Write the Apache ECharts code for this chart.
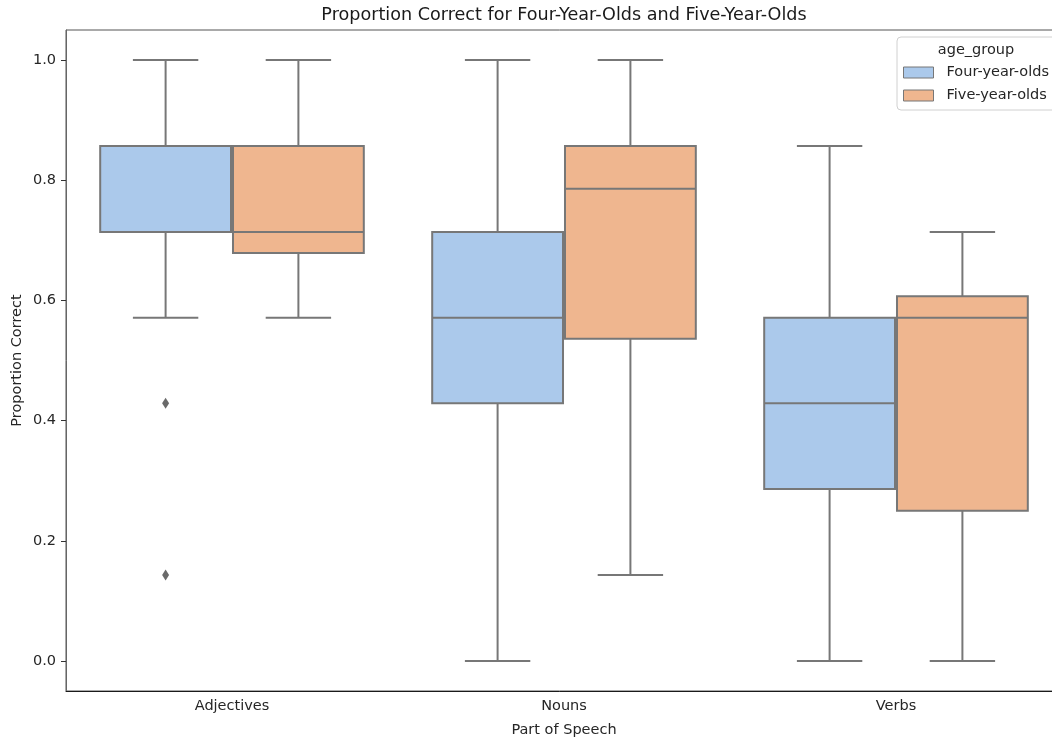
<!DOCTYPE html>
<html>
<head>
<meta charset="utf-8">
<script src="https://cdn.jsdelivr.net/npm/echarts@6/dist/echarts.min.js"></script>
<style>
  html, body { margin: 0; padding: 0; background: #fff; }
  #chart { width: 1052px; height: 740px; }
</style>
</head>
<body>
<div id="chart"></div>
<script>
// Parts of speech on the x axis
const categories = ['Adjectives', 'Nouns', 'Verbs'];
// Box summaries per category: [min whisker, Q1, median, Q3, max whisker]
const fourYearOlds = [
  [0.571, 0.714, 0.857, 0.857, 1.0],
  [0.0, 0.429, 0.571, 0.714, 1.0],
  [0.0, 0.286, 0.429, 0.571, 0.857]
];
const fiveYearOlds = [
  [0.571, 0.679, 0.714, 0.857, 1.0],
  [0.143, 0.536, 0.786, 0.857, 1.0],
  [0.0, 0.25, 0.571, 0.607, 0.714]
];
// Outliers: [category index, value]
const fourYearOutliers = [[0, 0.429], [0, 0.143]];
const fiveYearOutliers = [];
const yTicks = [0.0, 0.2, 0.4, 0.6, 0.8, 1.0];

const LINE = '#777777';
const BLUE = '#abc9eb';
const ORANGE = '#efb68f';
const FONT = 'DejaVu Sans';

function boxRenderer(side) {
  return function (params, api) {
    const cat = api.value(0);
    const band = api.size([1, 0])[0];
    const cx = api.coord([cat, 0])[0] + side * 0.2 * band;
    const boxW = 0.4 * band * 0.985;
    const capW = boxW / 2;
    const y = i => api.coord([cat, api.value(i)])[1];
    const yMin = y(1), yQ1 = y(2), yMed = y(3), yQ3 = y(4), yMax = y(5);
    const lineStyle = { stroke: LINE, lineWidth: 2, fill: null };
    return {
      type: 'group',
      children: [
        { type: 'line', shape: { x1: cx, y1: yQ1, x2: cx, y2: yMin }, style: lineStyle },
        { type: 'line', shape: { x1: cx, y1: yQ3, x2: cx, y2: yMax }, style: lineStyle },
        { type: 'line', shape: { x1: cx - capW / 2, y1: yMin, x2: cx + capW / 2, y2: yMin }, style: lineStyle },
        { type: 'line', shape: { x1: cx - capW / 2, y1: yMax, x2: cx + capW / 2, y2: yMax }, style: lineStyle },
        { type: 'rect', shape: { x: cx - boxW / 2, y: yQ3, width: boxW, height: yQ1 - yQ3 },
          style: { fill: api.visual('color'), stroke: LINE, lineWidth: 2 } },
        { type: 'line', shape: { x1: cx - boxW / 2, y1: yMed, x2: cx + boxW / 2, y2: yMed }, style: lineStyle }
      ]
    };
  };
}

function outlierRenderer(side) {
  return function (params, api) {
    const cat = api.value(0);
    const band = api.size([1, 0])[0];
    const p = api.coord([cat, api.value(1)]);
    const cx = p[0] + side * 0.2 * band;
    const cy = p[1];
    return {
      type: 'polygon',
      shape: { points: [[cx, cy - 5.5], [cx + 3.5, cy], [cx, cy + 5.5], [cx - 3.5, cy]] },
      style: { fill: '#6a6a6a', stroke: null }
    };
  };
}

const toRows = list => list.map((v, i) => [i].concat(v));

const chart = echarts.init(document.getElementById('chart'), null, { renderer: 'canvas' });
chart.setOption({
  animation: false,
  backgroundColor: '#ffffff',
  textStyle: { fontFamily: FONT },
  grid: {
    left: 66, top: 30, width: 996, height: 661,
    outerBoundsMode: 'none', containLabel: false,
    show: true, borderColor: '#555555', borderWidth: 1, backgroundColor: 'transparent'
  },
  graphic: [
    { type: 'text', x: 564, y: 6,
      style: { text: 'Proportion Correct for Four-Year-Olds and Five-Year-Olds', fontSize: 17.6,
               fill: '#1a1a1a', fontFamily: FONT, align: 'center' } },
    { type: 'text', x: 976, y: 43, z: 100,
      style: { text: 'age_group', fontSize: 14.5, fill: '#262626', align: 'center',
               fontFamily: FONT } }
  ],
  legend: {
    left: 897, top: 37,
    orient: 'vertical',
    padding: [28, 40, 7, 6],
    itemWidth: 30, itemHeight: 11, itemGap: 8,
    icon: 'rect',
    borderColor: '#d0d0d0', borderWidth: 1, borderRadius: 4,
    backgroundColor: 'rgba(255,255,255,0.85)',
    itemStyle: { borderColor: LINE, borderWidth: 1 },
    textStyle: { fontSize: 14.5, color: '#262626', padding: [0, 0, 0, 8], fontFamily: FONT },
    data: ['Four-year-olds', 'Five-year-olds']
  },
  xAxis: {
    type: 'category',
    data: categories,
    boundaryGap: true,
    name: 'Part of Speech',
    nameLocation: 'middle',
    nameGap: 32,
    nameTextStyle: { fontSize: 14.5, color: '#262626' },
    axisLine: { onZero: false, lineStyle: { color: '#1a1a1a', width: 1 } },
    axisTick: { alignWithLabel: true, length: 4, lineStyle: { color: '#1a1a1a' } },
    axisLabel: { fontSize: 14.5, color: '#262626', margin: 8 },
    splitLine: { show: false }
  },
  yAxis: {
    type: 'value',
    min: -0.05, max: 1.05,
    name: 'Proportion Correct',
    nameLocation: 'middle',
    nameGap: 41,
    nameMoveOverlap: false,
    nameTextStyle: { fontSize: 14.5, color: '#262626' },
    axisLine: { show: true, onZero: false, lineStyle: { color: '#666666', width: 1 } },
    axisTick: { show: true, length: 5, lineStyle: { color: '#333333' }, customValues: yTicks },
    axisLabel: { fontSize: 14.5, color: '#262626', margin: 10, customValues: yTicks,
                 formatter: v => v.toFixed(1) },
    splitLine: { show: false }
  },
  series: [
    { name: 'Four-year-olds', type: 'custom', itemStyle: { color: BLUE },
      renderItem: boxRenderer(-1), encode: { x: 0, y: [1, 2, 3, 4, 5] },
      data: toRows(fourYearOlds) },
    { name: 'Five-year-olds', type: 'custom', itemStyle: { color: ORANGE },
      renderItem: boxRenderer(1), encode: { x: 0, y: [1, 2, 3, 4, 5] },
      data: toRows(fiveYearOlds) },
    { name: 'Four-year-olds outliers', type: 'custom', renderItem: outlierRenderer(-1),
      encode: { x: 0, y: 1 }, data: fourYearOutliers },
    { name: 'Five-year-olds outliers', type: 'custom', renderItem: outlierRenderer(1),
      encode: { x: 0, y: 1 }, data: fiveYearOutliers }
  ]
});
</script>
</body>
</html>
